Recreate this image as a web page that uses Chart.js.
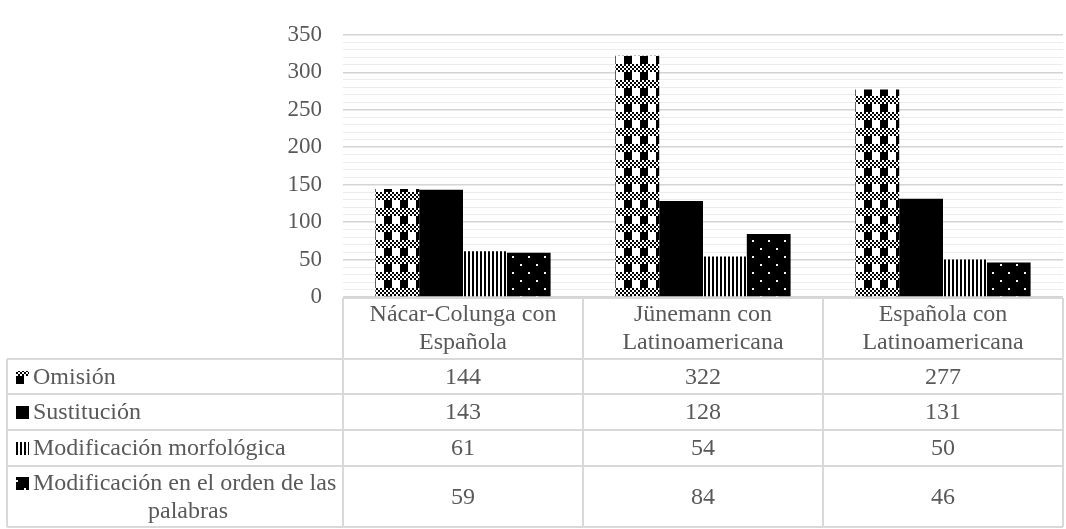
<!DOCTYPE html>
<html>
<head>
<meta charset="utf-8">
<script src="https://cdn.jsdelivr.net/npm/chart.js@4/dist/chart.umd.min.js"></script>
<style>
  html, body { margin: 0; padding: 0; background: #ffffff; }
  canvas { display: block; }
</style>
</head>
<body>
<canvas id="chart" width="1066" height="529"></canvas>
<script>
// ---- data ----
const categories = [
  ['Nácar-Colunga con', 'Española'],
  ['Jünemann con', 'Latinoamericana'],
  ['Española con', 'Latinoamericana']
];
const seriesNames = ['Omisión', 'Sustitución', 'Modificación morfológica', 'Modificación en el orden de las palabras'];
const omision = [144, 322, 277];
const sustitucion = [143, 128, 131];
const morfologica = [61, 54, 50];
const ordenPalabras = [59, 84, 46];
const yTickLabels = [0, 50, 100, 150, 200, 250, 300, 350];

// ---- look ----
const FONT = "'Liberation Serif', 'Times New Roman', serif";
const TEXT = '#595959';
const LINE = '#d9d9d9';
const TABLE_FONT = '24px ' + FONT;

// ---- fill patterns ----
function tile(w, h, draw) {
  const c = document.createElement('canvas');
  c.width = w; c.height = h;
  const g = c.getContext('2d');
  draw(g);
  return document.getElementById('chart').getContext('2d').createPattern(c, 'repeat');
}
// plaid: small checks band above a band of large blocks
const plaid = tile(16, 16, g => {
  g.fillStyle = '#fff'; g.fillRect(0, 0, 16, 16);
  g.fillStyle = '#000';
  for (let y = 0; y < 8; y += 2)
    for (let x = 0; x < 16; x += 2)
      if (((x + y) / 2) % 2 === 0) g.fillRect(x, y, 2, 2);
  g.fillRect(0, 8, 8, 8);
});
const solid = '#000000';
const vStripes = tile(4, 4, g => {
  g.fillStyle = '#fff'; g.fillRect(0, 0, 4, 4);
  g.fillStyle = '#000'; g.fillRect(0, 0, 2, 4);
});
const dots = tile(16, 16, g => {
  g.fillStyle = '#000'; g.fillRect(0, 0, 16, 16);
  g.fillStyle = '#fff';
  g.fillRect(0, 0, 2, 2);
  g.fillRect(8, 8, 2, 2);
});
const fills = [plaid, solid, vStripes, dots];

// ---- data table drawn under the plot ----
function wrapLines(ctx, text, width) {
  const words = text.split(' ');
  const lines = [];
  let cur = '';
  for (const w of words) {
    const test = cur ? cur + ' ' + w : w;
    if (cur && ctx.measureText(test).width > width) { lines.push(cur); cur = w; }
    else cur = test;
  }
  if (cur) lines.push(cur);
  return lines;
}

const dataTable = {
  id: 'dataTable',
  afterDraw(chart) {
    const ctx = chart.ctx;
    const xs = chart.scales.x;
    const area = chart.chartArea;
    const n = chart.data.labels.length;
    const colW = (area.right - area.left) / n;
    const tableLeft = 7;
    const top = area.bottom + 1;
    const headerH = 61;
    const rowH = [35, 36, 36, 61];
    const rowTops = [];
    let y = top + headerH;
    for (const h of rowH) { rowTops.push(y); y += h; }
    const bottom = y;

    ctx.save();
    ctx.strokeStyle = LINE;
    ctx.lineWidth = 2;
    ctx.beginPath();
    // header box
    ctx.moveTo(area.left, top); ctx.lineTo(area.right, top);
    for (let i = 0; i <= n; i++) {
      const x = area.left + i * colW;
      ctx.moveTo(x, top); ctx.lineTo(x, bottom);
    }
    // series rows
    ctx.moveTo(tableLeft, rowTops[0]); ctx.lineTo(tableLeft, bottom);
    for (const ry of rowTops.concat([bottom])) {
      ctx.moveTo(tableLeft, ry); ctx.lineTo(area.right, ry);
    }
    ctx.stroke();

    ctx.fillStyle = TEXT;
    ctx.font = TABLE_FONT;
    ctx.textBaseline = 'middle';
    ctx.textAlign = 'center';
    // category headers
    chart.data.labels.forEach((lab, i) => {
      const cx = xs.getPixelForValue(i);
      const lines = Array.isArray(lab) ? lab : [lab];
      const mid = top + headerH / 2;
      lines.forEach((t, k) => ctx.fillText(t, cx, mid + (k - (lines.length - 1) / 2) * 28));
    });

    // rows: legend key, series name, values
    chart.data.datasets.forEach((ds, r) => {
      const rTop = rowTops[r];
      const h = rowH[r];
      const keyX = 16, textX = 33;
      ctx.font = TABLE_FONT;
      const lines = wrapLines(ctx, ds.label, area.left - textX - 2);
      const mid = rTop + h / 2;
      const y0 = mid - (lines.length - 1) * 14;
      // key
      ctx.fillStyle = ds.backgroundColor;
      ctx.fillRect(keyX, Math.round(y0 - 6), 13, 13);
      ctx.fillStyle = TEXT;
      lines.forEach((t, k) => {
        if (k === 0) { ctx.textAlign = 'left'; ctx.fillText(t, textX, y0 + 1); }
        else { ctx.textAlign = 'center'; ctx.fillText(t, (textX + area.left) / 2, y0 + 1 + k * 28); }
      });
      ctx.textAlign = 'center';
      ds.data.forEach((v, i) => ctx.fillText(String(v), xs.getPixelForValue(i), mid + 1));
    });
    ctx.restore();
  }
};

const seriesValues = [omision, sustitucion, morfologica, ordenPalabras];

new Chart(document.getElementById('chart'), {
  type: 'bar',
  data: {
    labels: categories,
    datasets: seriesNames.map((name, i) => ({
      label: name,
      data: seriesValues[i],
      backgroundColor: fills[i],
      borderWidth: 0,
      barPercentage: 1.0,
      categoryPercentage: 0.73
    }))
  },
  options: {
    responsive: false,
    animation: false,
    devicePixelRatio: 1,
    layout: { padding: { left: 0, right: 3, top: 23, bottom: 232 } },
    plugins: { legend: { display: false }, tooltip: { enabled: false } },
    scales: {
      x: { display: false, offset: true },
      y: {
        min: 0,
        max: 350,
        afterFit(scale) { scale.width = 343; },
        border: { display: false },
        grid: {
          drawTicks: false,
          color: c => (yTickLabels.includes(c.tick.value) ? '#d4d4d4' : '#ececec'),
          lineWidth: c => (yTickLabels.includes(c.tick.value) ? 1.5 : 1)
        },
        ticks: {
          stepSize: 10,
          autoSkip: false,
          padding: 21,
          color: TEXT,
          font: { family: FONT, size: 23 },
          callback: v => (yTickLabels.includes(v) ? String(v) : '')
        }
      }
    }
  },
  plugins: [dataTable]
});
</script>
</body>
</html>
